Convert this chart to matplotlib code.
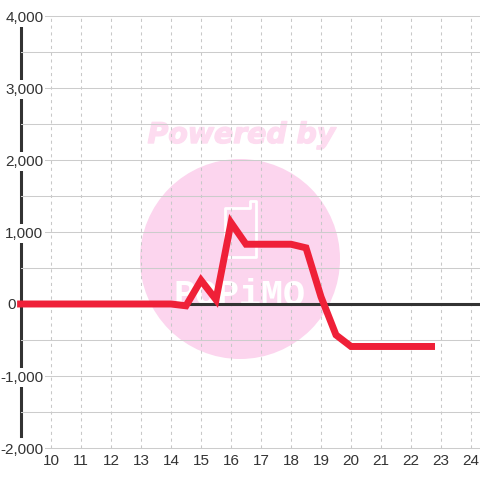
import matplotlib
matplotlib.use('Agg')
import matplotlib.pyplot as plt
import matplotlib.patheffects as pe
from matplotlib.patches import Circle, PathPatch
from matplotlib.path import Path
from matplotlib.ticker import FuncFormatter

hours = [8.87, 14, 14.5, 15, 15.5, 16, 16.5, 17, 17.5, 18, 18.5, 19, 19.5, 20, 21, 22, 22.8]
values = [0, 0, -25, 330, 60, 1130, 830, 830, 830, 830, 780, 100, -430, -590, -590, -590, -590]
x_ticks = list(range(10, 25))
y_major = [-2000, -1000, 0, 1000, 2000, 3000, 4000]
y_minor = [-1500, -500, 500, 1500, 2500, 3500]

plt.rcParams['font.family'] = ['Liberation Sans', 'DejaVu Sans']

fig = plt.figure(figsize=(4.8, 4.8), dpi=100)
W = 480.0


def px(x, y):
    return x / W, 1 - y / W


# axes spans pixels x 20.5..480, y 16..448
ax = fig.add_axes([20.5 / W, 1 - 448 / W, (480 - 20.5) / W, 432 / W])
ax.patch.set_alpha(0)
ax.set_xlim(10 - 30.5 / 30, 10 + 429 / 30)
ax.set_ylim(-2000, 4000)
ax.set_axisbelow(True)

# watermark
fig.add_artist(Circle(px(240, 259), 100 / W, transform=fig.transFigure,
                      fc='#fcd5ee', ec='none', zorder=-2))
phone = [(225, 208), (250, 208), (250, 201), (256, 201), (256, 257), (225, 257), (225, 208)]
fig.add_artist(PathPatch(Path([px(*p) for p in phone], closed=True), transform=fig.transFigure,
                         fc='none', ec='white', lw=2, joinstyle='round', zorder=-1))
x0, y0 = px(240, 305)
fig.text(x0, y0, 'POPiMO', color='white', fontsize=26.5, family=['Liberation Mono'],
         fontweight='bold', ha='center', va='baseline', zorder=-1)
x0, y0 = px(241.5, 135)
wm = fig.text(x0, y0, 'Powered by', color='#fddcf0', fontsize=20.4, family=['DejaVu Sans'],
              fontweight='bold', fontstyle='oblique', ha='center', va='center', zorder=-1)
wm.set_path_effects([pe.withStroke(linewidth=1, foreground='#fddcf0')])

ax.set_xticks(x_ticks)
ax.set_yticks(y_major)
ax.set_yticks(y_minor, minor=True)
ax.yaxis.set_major_formatter(FuncFormatter(lambda v, p: f'{int(v):,}' if v != 0 else ''))
ax.grid(axis='y', which='both', color='#cccccc', lw=0.75)
ax.grid(axis='x', which='major', color='#c8c8c8', lw=0.75, linestyle=(0, (3, 3.5)))
for t in ax.yaxis.get_major_ticks() + ax.yaxis.get_minor_ticks():
    t.gridline.set_clip_on(False)
ax.tick_params(which='both', length=0)
ax.tick_params(axis='x', labelsize=11, labelcolor='#333333', pad=4.5)
ax.tick_params(axis='y', labelsize=11, labelcolor='#333333', pad=-16.4)
fig.canvas.draw()
for t, v in zip(ax.get_yticklabels(), y_major):
    if v != 0:
        t.set_bbox(dict(fc='white', ec='none', pad=1.5))

# the zero label sits left of the axis line
ax.annotate('0', (0, 0), xycoords=ax.get_yaxis_transform(), xytext=(-4.5, -1), textcoords='offset pixels',
            ha='right', va='center', fontsize=11, color='#333333', annotation_clip=False)

for s in ['top', 'right', 'bottom']:
    ax.spines[s].set_visible(False)
ax.spines['left'].set_color('#333333')
ax.spines['left'].set_linewidth(2.2)
ax.spines['left'].set_bounds(-1833, 3889)
ax.spines['left'].set_zorder(0.4)

ax.axhline(0, color='#333333', lw=2.2, zorder=1)
ax.plot(hours, values, color='#ef2038', lw=5, solid_joinstyle='miter',
        solid_capstyle='butt', clip_on=False, zorder=3)

fig.savefig('out.png', dpi=100)
